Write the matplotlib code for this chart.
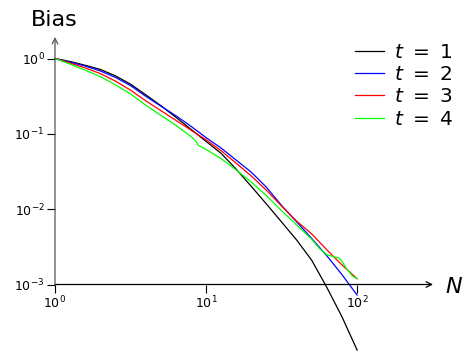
import matplotlib
matplotlib.use("Agg")
import matplotlib.pyplot as plt
from matplotlib.ticker import LogFormatterMathtext, NullLocator

plt.rcParams.update({
    "font.family": "DejaVu Sans",
    "mathtext.fontset": "dejavusans",
})

# ---- data ----
N = [1.0, 1.259, 1.585, 1.995, 2.512, 3.162, 3.981, 5.012, 6.310, 7.943,
     10.0, 12.59, 15.85, 19.95, 25.12, 31.62, 39.81, 50.12, 63.10, 79.43, 100.0]

bias_t1 = [1.0, 0.912, 0.813, 0.716, 0.589, 0.457, 0.331, 0.237, 0.166, 0.115,
           0.0794, 0.0550, 0.0339, 0.0200, 0.0117, 0.00676, 0.00389, 0.00209,
           0.000912, 0.000372, 0.000135]
bias_t2 = [1.0, 0.891, 0.794, 0.684, 0.562, 0.437, 0.316, 0.234, 0.174, 0.126,
           0.0891, 0.0646, 0.0447, 0.0309, 0.0195, 0.0112, 0.00676, 0.00407,
           0.00240, 0.00135, 0.000724]
bias_t3 = [1.0, 0.871, 0.750, 0.631, 0.501, 0.380, 0.275, 0.204, 0.151, 0.112,
           0.0832, 0.0596, 0.0407, 0.0275, 0.0178, 0.0110, 0.00692, 0.00468,
           0.00288, 0.00182, 0.00119]

N_t4 = [1.0, 1.259, 1.585, 1.995, 2.512, 3.162, 3.981, 5.012, 6.310, 7.943,
        8.511, 8.913, 9.550, 10.0, 12.59, 15.85, 19.95, 25.12, 31.62, 39.81,
        50.12, 56.23, 63.10, 70.79, 75.86, 79.43, 85.11, 93.33, 100.0]
bias_t4 = [1.0, 0.841, 0.700, 0.575, 0.447, 0.339, 0.240, 0.176, 0.130, 0.0920,
           0.0810, 0.0700, 0.0655, 0.0620, 0.0468, 0.0331, 0.0229, 0.0151,
           0.00955, 0.00617, 0.00398, 0.00302, 0.00248, 0.00232, 0.00224,
           0.00204, 0.00162, 0.00129, 0.00120]

series = [("$t\\ =\\ 1$", bias_t1, "black", N),
          ("$t\\ =\\ 2$", bias_t2, "blue", N),
          ("$t\\ =\\ 3$", bias_t3, "red", N),
          ("$t\\ =\\ 4$", bias_t4, "#00ff00", N_t4)]

xticks = [1, 10, 100]
yticks = [1e-3, 1e-2, 1e-1, 1]

W, H = 464, 351
fig = plt.figure(figsize=(W / 100, H / 100), dpi=100)
# axes box from pixel positions of the reference
x0, x1, y0, y1 = 55, 433, 284.5, 37
ax = fig.add_axes([x0 / W, (H - y0) / H, (x1 - x0) / W, (y0 - y1) / H])
ax.set_xscale("log"); ax.set_yscale("log")
ax.set_xlim(1, 318)
ax.set_ylim(1e-3, 1.93)

for lab, b, col, xs in series:
    ax.plot(xs, b, color=col, lw=0.9, label=lab, clip_on=False)

for s in ax.spines.values():
    s.set_visible(False)
ax.annotate("", xy=(1, 0), xytext=(0, 0), xycoords="axes fraction",
            arrowprops=dict(arrowstyle="->", lw=0.9, color="black",
                            shrinkA=0, shrinkB=0, mutation_scale=10))
ax.annotate("", xy=(0, 1), xytext=(0, 0), xycoords="axes fraction",
            arrowprops=dict(arrowstyle="->", lw=0.9, color="#555555",
                            shrinkA=0, shrinkB=0, mutation_scale=10))

ax.set_xticks(xticks); ax.set_yticks(yticks)
ax.xaxis.set_minor_locator(NullLocator()); ax.yaxis.set_minor_locator(NullLocator())
ax.xaxis.set_major_formatter(LogFormatterMathtext())
ax.yaxis.set_major_formatter(LogFormatterMathtext())
ax.tick_params(direction="out", length=6, width=0.8, labelsize=9, pad=1.5)

fig.text(54.5 / W, 1 - 26 / H, "Bias", fontsize=16, ha="center", va="baseline")
fig.text(445 / W, 1 - 287 / H, "$N$", fontsize=16, ha="left", va="center")

fig.legend(loc="upper left", bbox_to_anchor=(355 / W, 1 - 43 / H),
           frameon=False, fontsize=14.5, handlelength=1.45, handletextpad=0.5,
           labelspacing=0.16, borderpad=0, borderaxespad=0)

fig.savefig("out.png", dpi=100)
